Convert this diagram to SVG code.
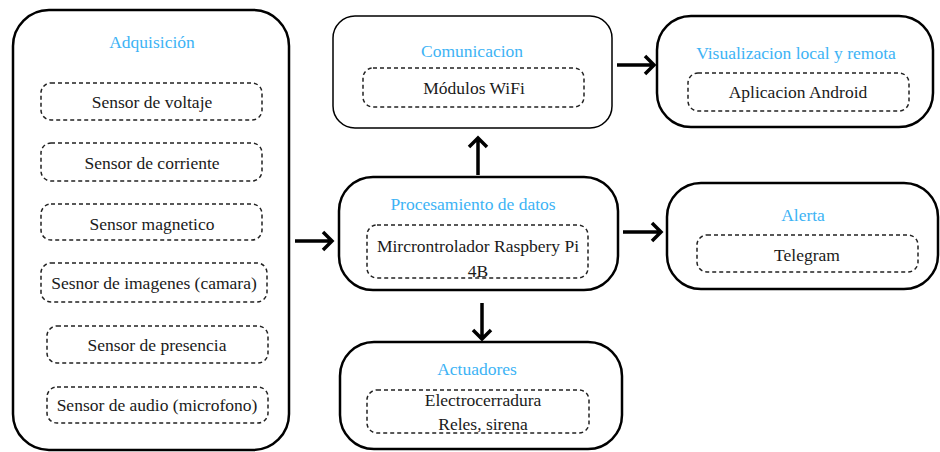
<svg xmlns="http://www.w3.org/2000/svg" width="940" height="452" viewBox="0 0 940 452">
<style>
.outer{fill:#fff;stroke:#000;stroke-width:2.5}
.thin{stroke-width:1.5}
.dash{fill:none;stroke:#222;stroke-width:1.5;stroke-dasharray:4 3}
.title{font-size:17.5px;fill:#3db3f5;text-anchor:middle}
.lbl{font-size:17.5px;fill:#1a1a1a;text-anchor:middle}
.arr{fill:none;stroke:#000;stroke-width:3.5;stroke-linejoin:miter}
</style>
<rect width="940" height="452" fill="#fff"/>
<g font-family="Liberation Serif, serif">
<g id="adquisicion">
<rect class="outer" x="13" y="10" width="276" height="440" rx="36"/>
<text class="title" x="152" y="48">Adquisición</text>
<rect class="dash" x="41" y="83" width="221" height="37" rx="10"/>
<text class="lbl" x="152" y="108">Sensor de voltaje</text>
<rect class="dash" x="41" y="143" width="221" height="38" rx="10"/>
<text class="lbl" x="152" y="169">Sensor de corriente</text>
<rect class="dash" x="41" y="204" width="221" height="36" rx="10"/>
<text class="lbl" x="152" y="230">Sensor magnetico</text>
<rect class="dash" x="41" y="263" width="226" height="39" rx="10"/>
<text class="lbl" x="154" y="289">Sesnor de imagenes (camara)</text>
<rect class="dash" x="47" y="326" width="221" height="37" rx="10"/>
<text class="lbl" x="157" y="351">Sensor de presencia</text>
<rect class="dash" x="47" y="387" width="221" height="36" rx="10"/>
<text class="lbl" x="157" y="411">Sensor de audio (microfono)</text>
</g>
<g id="comunicacion">
<rect class="outer thin" x="333" y="16" width="279" height="112" rx="22"/>
<text class="title" x="472" y="57">Comunicacion</text>
<rect class="dash" x="363" y="68" width="221" height="39" rx="10"/>
<text class="lbl" x="474" y="94">Módulos WiFi</text>
</g>
<g id="visualizacion">
<rect class="outer" x="657" y="16" width="276" height="111" rx="34"/>
<text class="title" x="796" y="59">Visualizacion local y remota</text>
<rect class="dash" x="688" y="73" width="221" height="38" rx="10"/>
<text class="lbl" x="798" y="98">Aplicacion Android</text>
</g>
<g id="procesamiento">
<rect class="outer" x="339" y="177" width="279" height="113" rx="34"/>
<text class="title" x="473" y="210">Procesamiento de datos</text>
<rect class="dash" x="367" y="225" width="221" height="53" rx="10"/>
<text class="lbl" x="478" y="252">Mircrontrolador Raspbery Pi</text>
<text class="lbl" x="478" y="277">4B</text>
</g>
<g id="alerta">
<rect class="outer" x="667" y="183" width="271" height="106" rx="34"/>
<text class="title" x="803" y="221">Alerta</text>
<rect class="dash" x="697" y="235" width="221" height="37" rx="10"/>
<text class="lbl" x="807" y="261">Telegram</text>
</g>
<g id="actuadores">
<rect class="outer" x="340" y="342" width="282" height="107" rx="34"/>
<text class="title" x="477" y="375">Actuadores</text>
<rect class="dash" x="367" y="390" width="222" height="43" rx="10"/>
<text class="lbl" x="483" y="406">Electrocerradura</text>
<text class="lbl" x="483" y="430">Reles, sirena</text>
</g>
</g>
<g id="connectors">
<path class="arr" d="M295 241H332M323 232L332 241L323 250"/>
<path class="arr" d="M478 175V138M469 147L478 138L487 147"/>
<path class="arr" d="M617 65H654M645 56L654 65L645 74"/>
<path class="arr" d="M623 232H661M652 223L661 232L652 241"/>
<path class="arr" d="M482 303V339M473 330L482 339L491 330"/>
</g>
</svg>
